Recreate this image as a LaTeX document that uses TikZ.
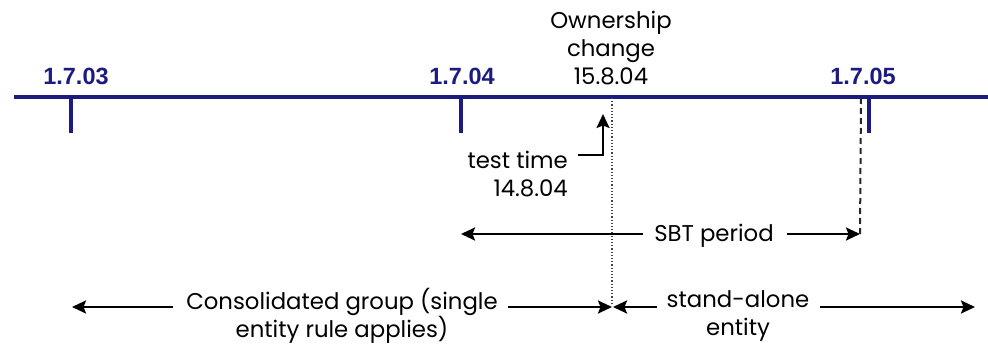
\documentclass[tikz,border=0pt]{standalone}
\usepackage{fontspec}
\setmainfont{Poppins}
\newfontfamily\datefont{Liberation Sans}
\usetikzlibrary{arrows.meta}
\definecolor{navy}{RGB}{28,28,128}
\begin{document}
\begin{tikzpicture}[x=1pt,y=-1pt,
  axis/.style={draw=navy,line width=3.5pt},
  tick/.style={draw=navy,line width=3.5pt},
  datelbl/.style={font=\datefont\bfseries\fontsize{23.5}{26}\selectfont,text=navy,inner sep=0pt},
  lbl/.style={font=\fontsize{22.8}{28}\selectfont,inner sep=0pt,align=center},
  arr/.style={draw=black,line width=2.4pt,-{Stealth[length=14pt,width=13pt,inset=2.5pt]}},
  ]
\useasboundingbox (0,0) rectangle (988,345);
% axis
\coordinate (a0) at (14,97);
\coordinate (a1) at (988,97);
\draw[axis] (a0) -- (a1);
\coordinate (t1) at (71,97); \coordinate (t1b) at (71,133);
\coordinate (t2) at (461,97); \coordinate (t2b) at (461,133);
\coordinate (t3) at (869,97); \coordinate (t3b) at (869,133);
\draw[tick] (t1) -- (t1b);
\draw[tick] (t2) -- (t2b);
\draw[tick] (t3) -- (t3b);
\node[datelbl] (d1) at (76,76) {1.7.03};
\node[datelbl] (d2) at (462,76) {1.7.04};
\node[datelbl] (d3) at (863,76) {1.7.05};
% ownership change
\node[lbl] (own) at (611,48) {Ownership\\change\\15.8.04};
\coordinate (oc) at (612,98);
\coordinate (ocb) at (612,305);
\draw[gray!50!black,line width=1.2pt,dotted] (oc) -- (ocb);
% test time
\node[lbl,align=right,anchor=east] (tt) at (568,174) {test time\\14.8.04};
\coordinate (tt1) at (578,155);
\coordinate (tt2) at (603,155);
\coordinate (tt3) at (603,114);
\draw[arr] (tt1) -- (tt2) -- (tt3);
% SBT period
\node[lbl] (sbt) at (714,236) {SBT period};
\coordinate (s0) at (461,234);
\coordinate (s1) at (643,234);
\coordinate (s2) at (787,234);
\coordinate (s3) at (860,234);
\draw[arr] (s1) -- (s0);
\draw[arr] (s2) -- (s3);
\coordinate (s4) at (861,98);
\draw[black!85,line width=2pt,dash pattern=on 6pt off 4pt] (s4) -- (s3);
% consolidated group
\node[lbl] (cg) at (342,316) {Consolidated group (single\\entity rule applies)};
\coordinate (c0) at (72,307);
\coordinate (c1) at (173,307);
\coordinate (c2) at (508,307);
\coordinate (c3) at (612,307);
\draw[arr] (c1) -- (c0);
\draw[arr] (c2) -- (c3);
% stand-alone
\node[lbl] (sa) at (738,316) {stand-alone\\entity};
\coordinate (e0) at (613,307);
\coordinate (e1) at (657,307);
\coordinate (e2) at (820,307);
\coordinate (e3) at (975,307);
\draw[arr] (e1) -- (e0);
\draw[arr] (e2) -- (e3);
\end{tikzpicture}
\end{document}
